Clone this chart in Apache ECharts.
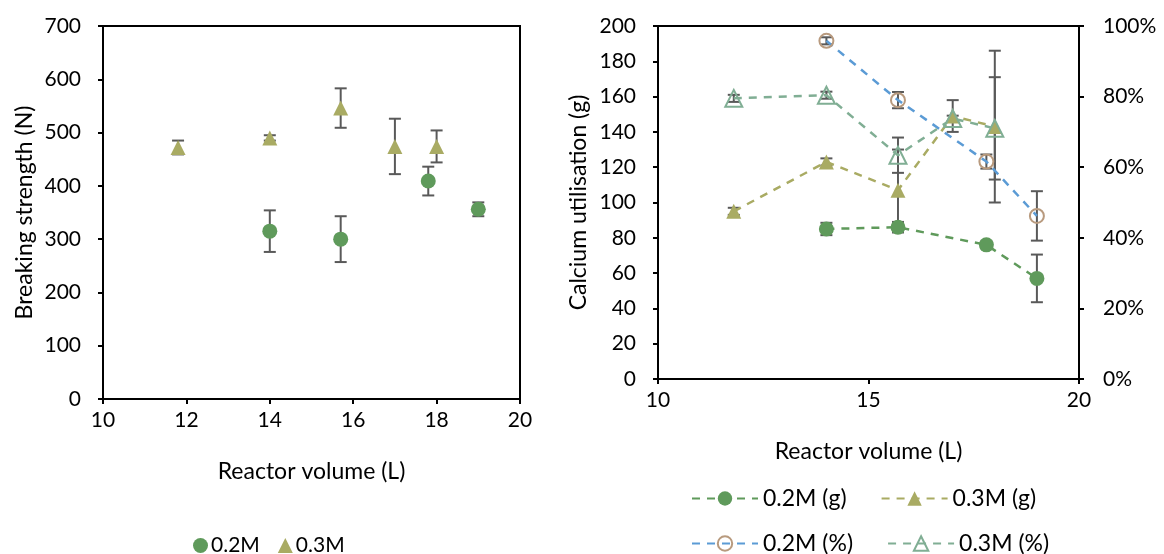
<!DOCTYPE html>
<html>
<head>
<meta charset="utf-8">
<script src="https://cdn.jsdelivr.net/npm/echarts@6/dist/echarts.min.js"></script>
<style>html,body{margin:0;padding:0;background:#fff}#c{width:1164px;height:554px}</style>
</head>
<body>
<div id="c"></div>
<script>
// ---- data ----
var vol02 = [14.0, 15.7, 17.8, 19.0];
var vol03 = [11.8, 14.0, 15.7, 17.0, 18.0];
// breaking strength (N)
var str02 = [315, 300, 409, 356];
var strErr02 = [39, 43, 27, 13];
var str03 = [472, 490, 546, 474, 474];
var strErr03 = [13, 5, 37, 52, 30];
// calcium utilisation (g)
var caG02 = [85, 86, 76, 57];
var caGErr02 = [3.5, 3, 2, 13.5];
var caG03 = [95, 123, 107, 149, 143];
var caGErr03 = [2, 2, 23, 9, 43];
// calcium utilisation (%)
var caP02 = [95.8, 79, 61.6, 46.2];
var caPErr02 = [1, 2.3, 2, 7];
var caP03 = [79.5, 80.4, 63.4, 73.8, 71];
var caPErr03 = [1, 1, 5, 0.8, 14.5];
var leftXTicks = [10, 12, 14, 16, 18, 20];
var rightXTicks = [10, 15, 20];

var FONT = 'Lato';
var GREEN = '#5F9A5B', OLIVE = '#A9AB63', BLUE = '#5B9BD5', BROWN = '#B89A7E', SAGE = '#80AE94';
var ERRC = '#595959';

function pairs(xs, ys) { return xs.map(function (x, i) { return [x, ys[i]]; }); }
function triples(xs, ys, es) { return xs.map(function (x, i) { return [x, ys[i], es[i]]; }); }

function errSeries(xi, yi, data) {
  return {
    type: 'custom', xAxisIndex: xi, yAxisIndex: yi, z: 1, silent: true,
    data: data,
    renderItem: function (params, api) {
      var x = api.value(0), y = api.value(1), e = api.value(2);
      var top = api.coord([x, y + e]);
      var bot = api.coord([x, y - e]);
      var hw = 6;
      var st = { stroke: ERRC, lineWidth: 2 };
      return {
        type: 'group',
        children: [
          { type: 'line', shape: { x1: top[0], y1: top[1], x2: bot[0], y2: bot[1] }, style: st },
          { type: 'line', shape: { x1: top[0] - hw, y1: top[1], x2: top[0] + hw, y2: top[1] }, style: st },
          { type: 'line', shape: { x1: bot[0] - hw, y1: bot[1], x2: bot[0] + hw, y2: bot[1] }, style: st }
        ]
      };
    }
  };
}

var axLine = { show: true, onZero: false, lineStyle: { color: '#000', width: 2 } };
var tick = { show: true, length: 5, lineStyle: { color: '#000', width: 2 } };
var lblStyle = { fontFamily: FONT, fontSize: 21, color: '#000' };
var nameStyle = { fontFamily: FONT, fontSize: 23, color: '#000' };

var chart = echarts.init(document.getElementById('c'), null, { renderer: 'canvas' });
chart.setOption({
  backgroundColor: '#fff',
  animation: false,
  grid: [
    { left: 103, top: 26, width: 417, height: 373, show: true, borderColor: '#000', borderWidth: 2, backgroundColor: 'transparent' },
    { left: 658, top: 26, width: 421, height: 353, show: true, borderColor: '#000', borderWidth: 2, backgroundColor: 'transparent' }
  ],
  xAxis: [
    { gridIndex: 0, type: 'value', min: 10, max: 20, interval: 2,
      name: 'Reactor volume (L)', nameLocation: 'middle', nameGap: 61, nameTextStyle: nameStyle,
      axisLine: axLine, axisTick: tick, splitLine: { show: false },
      axisLabel: Object.assign({ margin: 11 }, lblStyle) },
    { gridIndex: 1, type: 'value', min: 10, max: 20, interval: 5,
      name: 'Reactor volume (L)', nameLocation: 'middle', nameGap: 61, nameTextStyle: nameStyle,
      axisLine: axLine, axisTick: tick, splitLine: { show: false },
      axisLabel: Object.assign({ margin: 11 }, lblStyle) }
  ],
  yAxis: [
    { gridIndex: 0, type: 'value', min: 0, max: 700, interval: 100,
      name: 'Breaking strength (N)', nameLocation: 'middle', nameGap: 67, nameTextStyle: nameStyle,
      axisLine: axLine, axisTick: tick, splitLine: { show: false },
      axisLabel: Object.assign({ margin: 22 }, lblStyle) },
    { gridIndex: 1, type: 'value', min: 0, max: 200, interval: 20,
      name: 'Calcium utilisation (g)', nameLocation: 'middle', nameGap: 68, nameTextStyle: nameStyle,
      axisLine: axLine, axisTick: tick, splitLine: { show: false },
      axisLabel: Object.assign({ margin: 22 }, lblStyle) },
    { gridIndex: 1, type: 'value', min: 0, max: 100, interval: 20, position: 'right',
      axisLine: axLine, axisTick: tick, splitLine: { show: false },
      axisLabel: Object.assign({ margin: 24, formatter: '{value}%' }, lblStyle) }
  ],
  legend: [
    { data: ['0.2M', '0.3M'], left: 188, top: 530, itemWidth: 15, itemHeight: 15, itemGap: 18,
      textStyle: { fontFamily: FONT, fontSize: 21, color: '#000', padding: [0, 0, 0, -2] } },
    { data: ['0.2M (g)', '0.3M (g)'], left: 686, top: 482, itemWidth: 66, itemHeight: 18, itemGap: 34,
      textStyle: { fontFamily: FONT, fontSize: 23, color: '#000' } },
    { data: ['0.2M (%)', '0.3M (%)'], left: 686, top: 527, itemWidth: 66, itemHeight: 18, itemGap: 34,
      textStyle: { fontFamily: FONT, fontSize: 23, color: '#000' } }
  ],
  series: [
    errSeries(0, 0, triples(vol03, str03, strErr03)),
    errSeries(0, 0, triples(vol02, str02, strErr02)),
    { name: '0.2M', type: 'scatter', xAxisIndex: 0, yAxisIndex: 0, z: 3, symbol: 'circle', symbolSize: 15,
      itemStyle: { color: GREEN, opacity: 1 }, data: pairs(vol02, str02) },
    { name: '0.3M', type: 'scatter', xAxisIndex: 0, yAxisIndex: 0, z: 3, symbol: 'triangle', symbolSize: 15,
      itemStyle: { color: OLIVE, opacity: 1 }, data: pairs(vol03, str03) },

    errSeries(1, 1, triples(vol02, caG02, caGErr02)),
    errSeries(1, 1, triples(vol03, caG03, caGErr03)),
    errSeries(1, 2, triples(vol02, caP02, caPErr02)),
    errSeries(1, 2, triples(vol03, caP03, caPErr03)),
    { name: '0.2M (g)', type: 'line', xAxisIndex: 1, yAxisIndex: 1, z: 3, symbol: 'circle', symbolSize: 15, showAllSymbol: true,
      lineStyle: { color: GREEN, width: 2.5, type: [8, 7] }, itemStyle: { color: GREEN }, data: pairs(vol02, caG02) },
    { name: '0.3M (g)', type: 'line', xAxisIndex: 1, yAxisIndex: 1, z: 3, symbol: 'triangle', symbolSize: 15, showAllSymbol: true,
      lineStyle: { color: OLIVE, width: 2.5, type: [8, 7] }, itemStyle: { color: OLIVE }, data: pairs(vol03, caG03) },
    { name: '0.2M (%)', type: 'line', xAxisIndex: 1, yAxisIndex: 2, z: 3, symbol: 'circle', symbolSize: 14, showAllSymbol: true,
      lineStyle: { color: BLUE, width: 2.5, type: [8, 7] }, itemStyle: { color: 'rgba(255,255,255,0)', borderColor: BROWN, borderWidth: 2 }, data: pairs(vol02, caP02) },
    { name: '0.3M (%)', type: 'line', xAxisIndex: 1, yAxisIndex: 2, z: 3, symbol: 'triangle', symbolSize: 17, showAllSymbol: true,
      lineStyle: { color: SAGE, width: 2.5, type: [8, 7] }, itemStyle: { color: 'rgba(255,255,255,0)', borderColor: SAGE, borderWidth: 2 }, data: pairs(vol03, caP03) }
  ]
});
</script>
</body>
</html>
